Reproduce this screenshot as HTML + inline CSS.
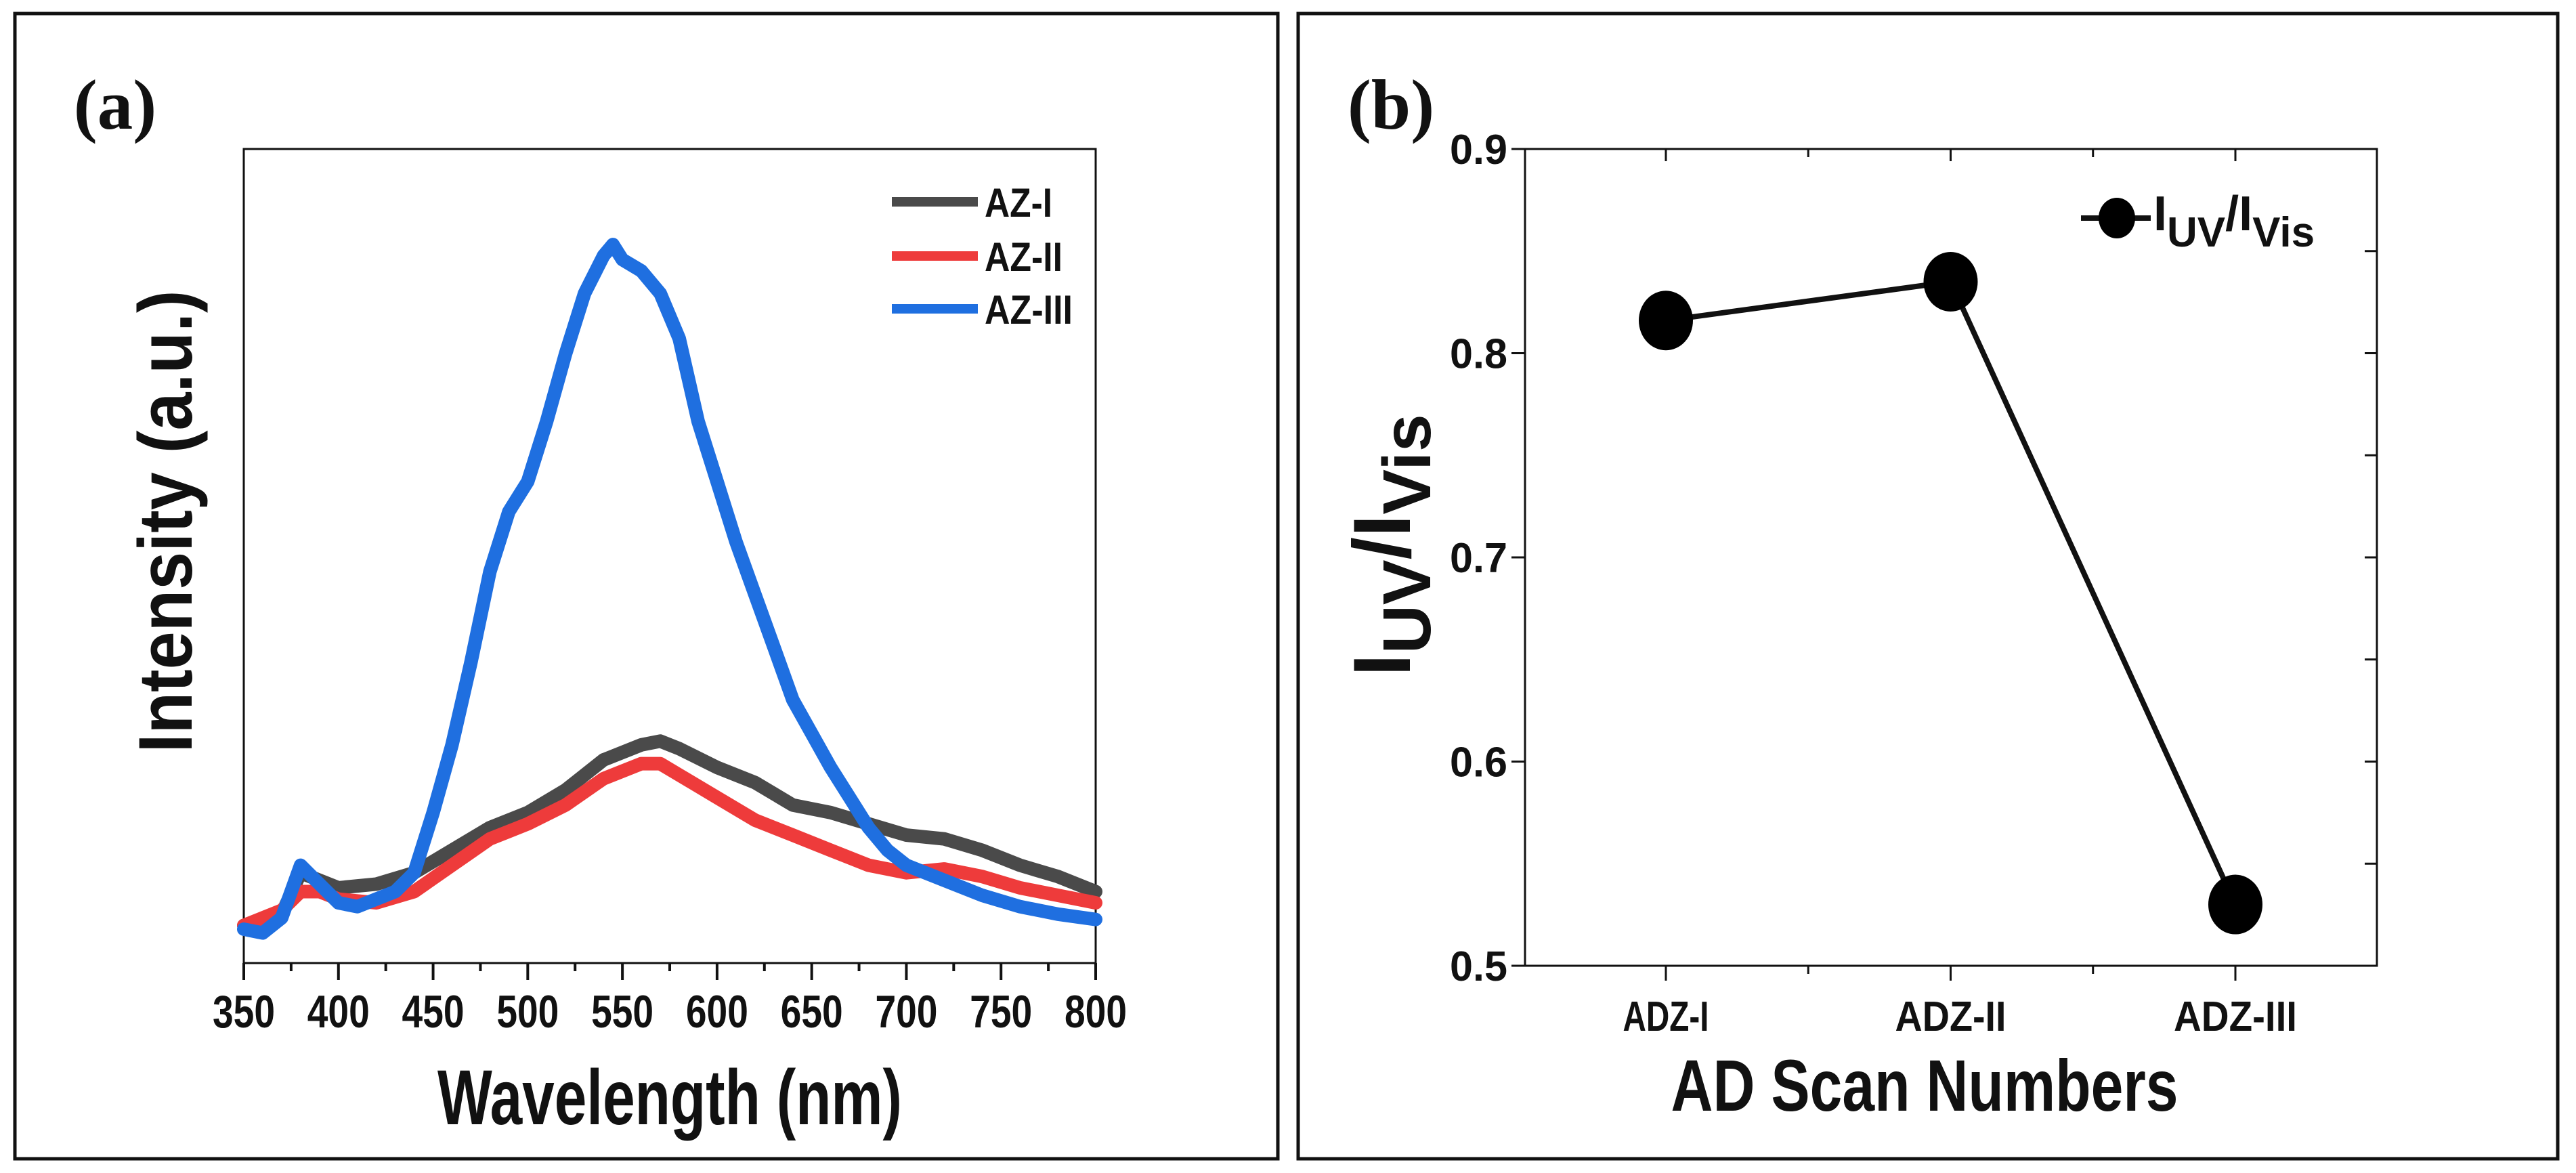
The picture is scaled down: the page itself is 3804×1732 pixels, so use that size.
<!DOCTYPE html>
<html><head><meta charset="utf-8">
<style>
html,body{margin:0;padding:0;background:#fff;}
svg{display:block;}
text{font-family:"Liberation Sans",sans-serif;font-weight:bold;fill:#111;}
.serif{font-family:"Liberation Serif",serif;}
</style></head>
<body>
<svg id="fig" width="3804" height="1732" viewBox="0 0 3804 1732" xmlns="http://www.w3.org/2000/svg">
  <rect x="22" y="20" width="1865" height="1691" fill="none" stroke="#111" stroke-width="5"/>
  <rect x="1917" y="20" width="1860" height="1691" fill="none" stroke="#111" stroke-width="5"/>
  <text class="serif" x="170" y="190" font-size="105" text-anchor="middle">(a)</text>
  <text class="serif" x="2054" y="190" font-size="105" text-anchor="middle">(b)</text>
  <g id="chartA"></g>
  <g id="chartB"></g>
</svg>
<script>
// ---------- Panel (a) data ----------
const xTicksA = [350,400,450,500,550,600,650,700,750,800];
const blueWl = [350,360,370,380,390,400,410,420,430,440,450,460,470,480,490,500,510,520,530,540,545,550,560,570,580,590,600,610,620,630,640,650,660,670,680,690,700,720,740,760,780,800];
const blueVals = [45,40,60,130,105,80,75,85,95,120,200,290,400,520,600,640,720,810,890,940,955,935,920,890,830,720,640,560,490,420,350,305,260,220,180,150,130,110,90,75,65,58];
const grayWl = [350,370,380,390,400,420,440,460,480,500,520,540,560,570,580,600,620,640,660,680,700,720,740,760,780,800];
const grayVals = [50,65,120,110,100,105,120,150,180,200,230,270,290,295,285,260,240,210,200,185,170,165,150,130,115,95];
const redWl = [350,370,380,390,400,420,440,460,480,500,520,540,560,570,580,600,620,640,660,680,700,720,740,760,780,800];
const redVals = [50,70,95,95,85,80,95,130,165,185,210,245,265,265,250,220,190,170,150,130,120,125,115,100,90,80];
const seriesNamesA = ["AZ-I","AZ-II","AZ-III"];

// ---------- Panel (b) data ----------
const categoriesB = ["ADZ-I","ADZ-II","ADZ-III"];
const ratioVals = [0.816,0.835,0.530];
const yTicksB = [0.5,0.6,0.7,0.8,0.9];

const NS = "http://www.w3.org/2000/svg";
function mk(parent, tag, attrs){
  const e = document.createElementNS(NS, tag);
  for (const k in attrs) e.setAttribute(k, attrs[k]);
  parent.appendChild(e);
  return e;
}

// ===== Panel (a) =====
const gA = document.getElementById('chartA');
const aL=360, aR=1618, aT=220, aB=1422;
const xA = v => aL + (v-350)/(800-350)*(aR-aL);
const yA = v => aB - v/1082*(aB-aT);

const frameA = mk(gA,'rect',{x:aL,y:aT,width:aR-aL,height:aB-aT,fill:'none',stroke:'#111','stroke-width':3});



for (let i=0;i<xTicksA.length;i++){
  const v = xTicksA[i];
  const t = mk(gA,'line',{x1:xA(v),x2:xA(v),y1:aB,y2:aB+25,stroke:'#111','stroke-width':4});
  
  
  if (i<xTicksA.length-1){
    const m = (v+xTicksA[i+1])/2;
    const mt = mk(gA,'line',{x1:xA(m),x2:xA(m),y1:aB,y2:aB+12,stroke:'#111','stroke-width':4});
    
    
  }
  const lb = mk(gA,'text',{x:xA(v),y:1517,'font-size':68,'text-anchor':'middle',textLength:92,lengthAdjust:'spacingAndGlyphs'});
  lb.textContent = v;
  
  
}

function pathFrom(wl, vals){
  return wl.map((w,i)=>(i?'L':'M')+xA(w).toFixed(1)+','+yA(vals[i]).toFixed(1)).join(' ');
}
const colors = ['#4a4a4a','#ee3b3b','#1f6fe0'];
const sets = [[grayWl,grayVals],[redWl,redVals],[blueWl,blueVals]];
const seriesNames = ['series-az-i','series-az-ii','series-az-iii'];
for (let s=0;s<3;s++){
  const p = mk(gA,'path',{d:pathFrom(sets[s][0],sets[s][1]),fill:'none',stroke:colors[s],'stroke-width':20,'stroke-linejoin':'round','stroke-linecap':'round'});
  
  
}
const legW = [100,115,130];
const legY = [298,378,456];
for (let s=0;s<3;s++){
  const l = mk(gA,'line',{x1:1317,x2:1444,y1:legY[s],y2:legY[s],stroke:colors[s],'stroke-width':14});
  
  
  const t = mk(gA,'text',{x:1454,y:legY[s]+22,'font-size':60,textLength:legW[s],lengthAdjust:'spacingAndGlyphs'});
  t.textContent = seriesNamesA[s];
  
  
}
const xtA = mk(gA,'text',{x:989,y:1660,'font-size':115,'text-anchor':'middle',textLength:686,lengthAdjust:'spacingAndGlyphs'});
xtA.textContent = 'Wavelength (nm)';


const ytA = mk(gA,'text',{x:0,y:0,'font-size':112,'text-anchor':'middle',textLength:683,lengthAdjust:'spacingAndGlyphs',transform:'translate(283,770) rotate(-90)'});
ytA.textContent = 'Intensity (a.u.)';



// ===== Panel (b) =====
const gB = document.getElementById('chartB');
const bL=2252, bR=3510, bT=220, bB=1426;
const xB = i => 2460 + i*420.5;
const yB = v => bB - (v-0.5)/(0.9-0.5)*(bB-bT);

const frameB = mk(gB,'rect',{x:bL,y:bT,width:bR-bL,height:bB-bT,fill:'none',stroke:'#111','stroke-width':3});



for (let i=0;i<yTicksB.length;i++){
  const v = yTicksB[i];
  const t = mk(gB,'line',{x1:bL-20,x2:bL,y1:yB(v),y2:yB(v),stroke:'#111','stroke-width':3});
  
  
  const lb = mk(gB,'text',{x:2226,y:yB(v)+22,'font-size':62,'text-anchor':'end',textLength:85,lengthAdjust:'spacingAndGlyphs'});
  lb.textContent = v.toFixed(1);
  
  
}
for (let v=0.55; v<0.9; v+=0.05){
  const rt = mk(gB,'line',{x1:bR-18,x2:bR,y1:yB(v),y2:yB(v),stroke:'#111','stroke-width':3});
  
  
}
const labW = [127,164,182];
for (let i=0;i<categoriesB.length;i++){
  const x = xB(i);
  const t = mk(gB,'line',{x1:x,x2:x,y1:bB,y2:bB+22,stroke:'#111','stroke-width':3});
  
  
  const tt = mk(gB,'line',{x1:x,x2:x,y1:bT,y2:bT+18,stroke:'#111','stroke-width':3});
  
  
  const lb = mk(gB,'text',{x:x,y:1522,'font-size':62,'text-anchor':'middle',textLength:labW[i],lengthAdjust:'spacingAndGlyphs'});
  lb.textContent = categoriesB[i];
  
  
  if (i<categoriesB.length-1){
    const mx = (x+xB(i+1))/2;
    const mt = mk(gB,'line',{x1:mx,x2:mx,y1:bB,y2:bB+12,stroke:'#111','stroke-width':3});
    
    
    const mtt = mk(gB,'line',{x1:mx,x2:mx,y1:bT,y2:bT+12,stroke:'#111','stroke-width':3});
    
    
  }
}
const linePts = ratioVals.map((v,i)=>xB(i).toFixed(1)+','+yB(v).toFixed(1)).join(' ');
const pl = mk(gB,'polyline',{points:linePts,fill:'none',stroke:'#111','stroke-width':8});


for (let i=0;i<ratioVals.length;i++){
  const c = mk(gB,'ellipse',{cx:xB(i),cy:yB(ratioVals[i]),rx:40,ry:44,fill:'#000'});
  
  
}
const ll = mk(gB,'line',{x1:3073,x2:3176,y1:322,y2:322,stroke:'#111','stroke-width':8});


const lm = mk(gB,'ellipse',{cx:3126,cy:322,rx:27,ry:30,fill:'#000'});


const lt = mk(gB,'text',{x:3180,y:340,'font-size':72});


lt.innerHTML = 'I<tspan font-size="62" dy="24">UV</tspan><tspan dy="-24">/I</tspan><tspan font-size="62" dy="24">Vis</tspan>';

const xtB = mk(gB,'text',{x:2842,y:1640,'font-size':108,'text-anchor':'middle',textLength:749,lengthAdjust:'spacingAndGlyphs'});
xtB.textContent = 'AD Scan Numbers';


const ytB = mk(gB,'text',{x:0,y:0,'font-size':120,'text-anchor':'middle',transform:'translate(2082,805) rotate(-90)'});


ytB.innerHTML = 'I<tspan font-size="100" dy="30">UV</tspan><tspan dy="-30">/I</tspan><tspan font-size="100" dy="30">Vis</tspan>';
</script>
</body></html>
